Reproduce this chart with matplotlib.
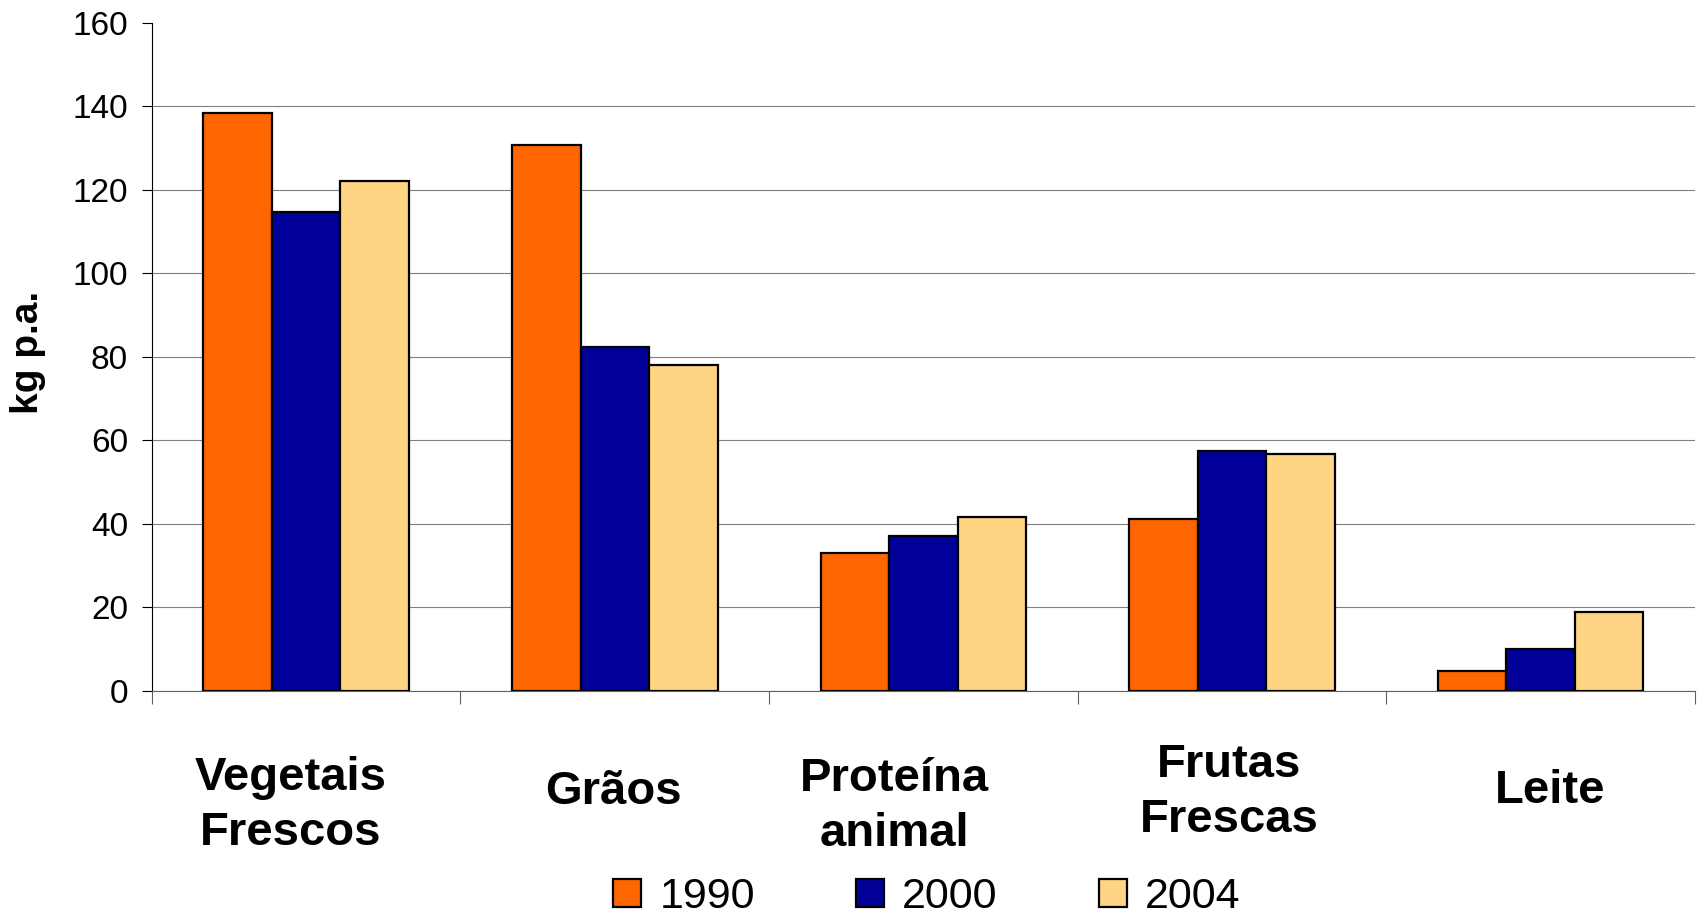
import matplotlib
matplotlib.use('Agg')
import matplotlib.pyplot as plt
import numpy as np

plt.rcParams['font.family'] = ['Liberation Sans', 'DejaVu Sans']

# Data:
categories = ['Vegetais\nFrescos', 'Grãos', 'Proteína\nanimal', 'Frutas\nFrescas', 'Leite']
years = ['1990', '2000', '2004']
vals_1990 = [138.3, 130.7, 32.9, 41.2, 4.7]
vals_2000 = [114.6, 82.4, 37.0, 57.5, 10.1]
vals_2004 = [122.2, 78.0, 41.7, 56.7, 18.9]
y_ticks = [0, 20, 40, 60, 80, 100, 120, 140, 160]

colors = ['#FF6600', '#000099', '#FFD583']
series = [vals_1990, vals_2000, vals_2004]

# Label nudges (pixels) to mimic the original placement:
label_dx = [-16, -1, -29, -3, 10]
label_dy = [-115, -101, -116, -102, -100]

fig = plt.figure(figsize=(16.98, 9.21), dpi=100)
ax = fig.add_axes([0.0895, 0.250, 0.9085, 0.7253])

x = np.arange(len(categories))
width = 0.222
for i, (vals, yr) in enumerate(zip(series, years)):
    ax.bar(x + (i - 1) * width, vals, width, color=colors[i], edgecolor='black',
           linewidth=1.6, label=yr, zorder=3)

# Axis limits / ticks:
ax.set_xlim(-0.5, len(categories) - 0.5)
ax.set_ylim(0, 160)
ax.set_yticks(y_ticks)
ax.set_yticklabels([str(t) for t in y_ticks], fontsize=24)
ax.tick_params(axis='y', direction='out', length=7.2, width=0.8, pad=10, color='black')

ax.set_xticks(np.arange(len(categories) + 1) - 0.5)
ax.set_xticklabels([])
ax.tick_params(axis='x', direction='out', length=9, width=0.8, color='#606060')

# Gridlines:
ax.yaxis.grid(True, color='#808080', linewidth=0.8, zorder=0)
ax.set_axisbelow(True)
ax.get_ygridlines()[-1].set_visible(False)

# Spines:
ax.spines['top'].set_visible(False)
ax.spines['right'].set_visible(False)
ax.spines['left'].set_color('black')
ax.spines['left'].set_linewidth(0.8)
ax.spines['bottom'].set_color('#606060')
ax.spines['bottom'].set_linewidth(0.8)

# Category labels:
for i, lab in enumerate(categories):
    ax.annotate(lab, xy=(x[i], 0), xycoords=('data', 'axes fraction'),
                xytext=(label_dx[i], label_dy[i]), textcoords='offset pixels',
                ha='center', va='center', fontsize=34, fontweight='bold',
                linespacing=1.32, annotation_clip=False)

# Y label:
fig.text(28 / 1698, 1 - 352 / 921, 'kg p.a.', rotation=90, ha='center', va='center',
         fontsize=28, fontweight='bold')

# Legend:
fig.legend(loc='center', bbox_to_anchor=(927 / 1698, 1 - 897 / 921), ncol=3,
           frameon=False, fontsize=31, handlelength=0.65, handleheight=0.63,
           handletextpad=0.42, columnspacing=2.35, borderpad=0, borderaxespad=0)

plt.savefig('out.png', dpi=100)
